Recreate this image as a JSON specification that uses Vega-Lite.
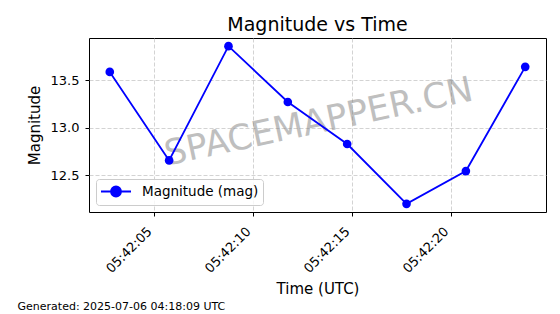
{
  "$schema": "https://vega.github.io/schema/vega-lite/v6.json",
  "padding": {"left": 17, "top": 15, "right": 14, "bottom": 4},
  "background": "white",
  "resolve": {"scale": {"color": "independent"}, "legend": {"color": "independent"}},
  "config": {
    "font": "DejaVu Sans",
    "view": {"stroke": "black", "strokeWidth": 1},
    "axis": {
      "domain": false,
      "tickColor": "black",
      "tickSize": 4,
      "labelColor": "black",
      "labelFontSize": 13,
      "labelFont": "DejaVu Sans",
      "titleFont": "DejaVu Sans",
      "titleFontSize": 15,
      "titleFontWeight": "normal",
      "titleColor": "black",
      "gridColor": "#c8c8c8",
      "gridDash": [4, 2],
      "gridWidth": 0.8
    }
  },
  "title": {
    "text": "Generated: 2025-07-06 04:18:09 UTC",
    "orient": "bottom",
    "anchor": "start",
    "frame": "bounds",
    "fontSize": 11,
    "fontWeight": "normal",
    "color": "black",
    "font": "DejaVu Sans",
    "dx": -9,
    "offset": 4
  },
  "vconcat": [
    {
      "width": 457,
      "height": 174,
      "title": {
        "text": "Magnitude vs Time",
        "fontSize": 19,
        "fontWeight": "normal",
        "color": "black",
        "font": "DejaVu Sans",
        "anchor": "middle",
        "offset": 3
      },
      "layer": [
        {
          "data": {"values": [{"t": "2025-07-05T05:42:13.31Z", "m": 13.06, "label": "SPACEMAPPER.CN"}]},
          "mark": {"type": "text", "angle": -12, "fontSize": 35, "color": "gray", "opacity": 0.5, "align": "center", "baseline": "middle", "font": "DejaVu Sans"},
          "encoding": {
            "x": {"field": "t", "type": "temporal"},
            "y": {"field": "m", "type": "quantitative"},
            "text": {"field": "label"}
          }
        },
        {
          "data": {"values": [
            {"time": "2025-07-05T05:42:02.75Z", "mag": 13.586, "series": "Magnitude (mag)"},
            {"time": "2025-07-05T05:42:05.75Z", "mag": 12.656, "series": "Magnitude (mag)"},
            {"time": "2025-07-05T05:42:08.75Z", "mag": 13.856, "series": "Magnitude (mag)"},
            {"time": "2025-07-05T05:42:11.75Z", "mag": 13.27, "series": "Magnitude (mag)"},
            {"time": "2025-07-05T05:42:14.75Z", "mag": 12.828, "series": "Magnitude (mag)"},
            {"time": "2025-07-05T05:42:17.75Z", "mag": 12.2, "series": "Magnitude (mag)"},
            {"time": "2025-07-05T05:42:20.75Z", "mag": 12.544, "series": "Magnitude (mag)"},
            {"time": "2025-07-05T05:42:23.75Z", "mag": 13.639, "series": "Magnitude (mag)"}
          ]},
          "encoding": {
            "x": {
              "field": "time",
              "type": "temporal",
              "scale": {
                "type": "utc",
                "nice": false,
                "domain": [
                  {"year": 2025, "month": 7, "date": 5, "hours": 5, "minutes": 42, "seconds": 1, "milliseconds": 700, "utc": true},
                  {"year": 2025, "month": 7, "date": 5, "hours": 5, "minutes": 42, "seconds": 24, "milliseconds": 800, "utc": true}
                ]
              },
              "axis": {
                "title": "Time (UTC)",
                "format": "%H:%M:%S",
                "values": [
                  {"year": 2025, "month": 7, "date": 5, "hours": 5, "minutes": 42, "seconds": 5, "utc": true},
                  {"year": 2025, "month": 7, "date": 5, "hours": 5, "minutes": 42, "seconds": 10, "utc": true},
                  {"year": 2025, "month": 7, "date": 5, "hours": 5, "minutes": 42, "seconds": 15, "utc": true},
                  {"year": 2025, "month": 7, "date": 5, "hours": 5, "minutes": 42, "seconds": 20, "utc": true}
                ],
                "labelAngle": -45,
                "labelAlign": "right",
                "labelBaseline": "bottom",
                "labelPadding": 18,
                "labelDx": -2,
                "titlePadding": 6
              }
            },
            "y": {
              "field": "mag",
              "type": "quantitative",
              "scale": {"domain": [12.114, 13.942], "nice": false, "zero": false},
              "axis": {"title": "Magnitude", "values": [12.5, 13.0, 13.5], "format": ".1f", "labelPadding": 6, "titlePadding": 8}
            },
            "color": {
              "field": "series",
              "type": "nominal",
              "scale": {"range": ["#0000ff"]},
              "legend": {
                "title": null,
                "orient": "bottom-left",
                "offset": 7,
                "padding": 4,
                "strokeColor": "#cccccc",
                "fillColor": "rgba(255,255,255,0.8)",
                "cornerRadius": 3,
                "labelFontSize": 13.5,
                "labelColor": "black",
                "labelFont": "DejaVu Sans",
                "symbolType": "M-1,0H3M0.333,0A0.667,0.667 0 1,1 1.667,0A0.667,0.667 0 1,1 0.333,0",
                "symbolSize": 225,
                "symbolStrokeWidth": 1.8,
                "labelOffset": 25,
                "encode": {
                  "symbols": {"update": {"fill": {"value": "#0000ff"}, "stroke": {"value": "#0000ff"}, "opacity": {"value": 1}}}
                }
              }
            }
          },
          "layer": [
            {"mark": {"type": "line", "strokeWidth": 1.8}},
            {"mark": {"type": "point", "filled": true, "size": 75, "opacity": 1, "shape": "circle"}}
          ]
        }
      ]
    }
  ]
}
